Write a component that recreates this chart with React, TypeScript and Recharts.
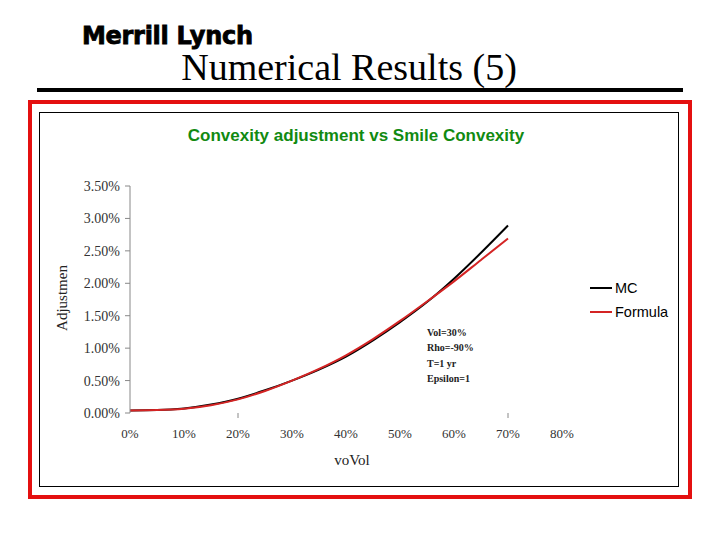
import { LineChart, Line, XAxis, YAxis } from "recharts";

// vol of vol (%), adjustment (%)
const voVol = [0, 5, 10, 15, 20, 25, 30, 35, 40, 45, 50, 55, 60, 65, 70];
const mc = [0.04, 0.045, 0.07, 0.13, 0.22, 0.35, 0.5, 0.67, 0.87, 1.12, 1.4, 1.71, 2.07, 2.47, 2.89];
const formula = [0.04, 0.045, 0.065, 0.12, 0.21, 0.34, 0.5, 0.68, 0.89, 1.14, 1.42, 1.72, 2.03, 2.36, 2.69];

const xTicks = [0, 10, 20, 30, 40, 50, 60, 70, 80];
const xMarked = [20, 70];
const yTicks = [0, 0.5, 1, 1.5, 2, 2.5, 3, 3.5];

const seriesNames = ["MC", "Formula"];
const seriesColors = ["#000000", "#d42424"];
const notes = ["Vol=30%", "Rho=-90%", "T=1 yr", "Epsilon=1"];

const data = voVol.map((v, i) => ({ v, mc: mc[i], formula: formula[i] }));

const serif = "'Liberation Serif', 'Times New Roman', serif";
const sans = "'Liberation Sans', Arial, sans-serif";

function XTick({ x, y, payload }: any) {
  return (
    <g>
      {xMarked.includes(payload.value) && (
        <line x1={x} x2={x} y1={y} y2={y + 5} stroke="#888" strokeWidth={1} />
      )}
      <text x={x} y={y + 25} textAnchor="middle" fontFamily={serif} fontSize={13} fill="#333">
        {payload.value}%
      </text>
    </g>
  );
}

export default function App() {
  return (
    <div
      style={{
        position: "absolute",
        left: 0,
        top: 0,
        width: 720,
        height: 540,
        background: "#fff",
        overflow: "hidden",
      }}
    >
      {/* header */}
      <div
        style={{
          position: "absolute",
          left: 82,
          top: 22,
          fontFamily: "'DejaVu Sans', sans-serif",
          fontWeight: 900,
          fontSize: 24,
          letterSpacing: -0.3,
          color: "#000",
          WebkitTextStroke: "0.8px #000",
        }}
      >
        Merrill Lynch
      </div>
      <div
        style={{
          position: "absolute",
          left: 0,
          width: 698,
          top: 45,
          textAlign: "center",
          fontFamily: serif,
          fontSize: 38,
          color: "#000",
        }}
      >
        Numerical Results (5)
      </div>
      <div style={{ position: "absolute", left: 37, top: 88, width: 646, height: 4, background: "#000" }} />

      {/* frames */}
      <div
        style={{
          position: "absolute",
          left: 28,
          top: 100,
          width: 656,
          height: 391,
          border: "4px solid #e41010",
        }}
      />
      <div
        style={{
          position: "absolute",
          left: 39,
          top: 112,
          width: 638,
          height: 373,
          border: "1.5px solid #000",
        }}
      />

      <div
        style={{
          position: "absolute",
          left: 0,
          width: 712,
          top: 126,
          textAlign: "center",
          fontFamily: sans,
          fontWeight: 700,
          fontSize: 17,
          color: "#118a11",
        }}
      >
        Convexity adjustment vs Smile Convexity
      </div>

      <div style={{ position: "absolute", left: 0, top: 0 }}>
        <LineChart width={720} height={540} data={data} margin={{ top: 186, right: 158, bottom: 97, left: 70 }}>
          <XAxis
            dataKey="v"
            type="number"
            domain={[0, 80]}
            ticks={xTicks}
            axisLine={false}
            tickLine={false}
            tickSize={0}
            tickMargin={0}
            height={30}
            tick={<XTick />}
            interval={0}
          />
          <YAxis
            type="number"
            domain={[0, 3.5]}
            ticks={yTicks}
            width={60}
            stroke="#888"
            tickSize={5}
            tickMargin={5}
            tick={{ fill: "#333", fontFamily: serif, fontSize: 14 }}
            tickFormatter={(v: number) => `${v.toFixed(2)}%`}
            interval={0}
          />
          <Line
            dataKey="mc"
            name={seriesNames[0]}
            type="monotone"
            stroke={seriesColors[0]}
            strokeWidth={2}
            dot={false}
            isAnimationActive={false}
          />
          <Line
            dataKey="formula"
            name={seriesNames[1]}
            type="monotone"
            stroke={seriesColors[1]}
            strokeWidth={2}
            dot={false}
            isAnimationActive={false}
          />
        </LineChart>
      </div>

      {/* axis titles */}
      <div
        style={{
          position: "absolute",
          left: 62,
          top: 298,
          transform: "translate(-50%, -50%) rotate(-90deg)",
          fontFamily: serif,
          fontSize: 15,
          color: "#222",
          whiteSpace: "nowrap",
        }}
      >
        Adjustmen
      </div>
      <div
        style={{
          position: "absolute",
          left: 352,
          top: 460,
          transform: "translate(-50%, -50%)",
          fontFamily: serif,
          fontSize: 15,
          color: "#222",
        }}
      >
        voVol
      </div>

      {/* legend */}
      {seriesNames.map((n, i) => (
        <div
          key={n}
          style={{
            position: "absolute",
            left: 590,
            top: 280 + i * 24,
            display: "flex",
            alignItems: "center",
            fontFamily: sans,
            fontSize: 14.5,
            color: "#000",
          }}
        >
          <span style={{ display: "inline-block", width: 22, height: 2, background: seriesColors[i], marginRight: 3 }} />
          {n}
        </div>
      ))}

      {/* parameter notes */}
      {notes.map((t, i) => (
        <div
          key={t}
          style={{
            position: "absolute",
            left: 427,
            top: 327 + i * 15.3,
            fontFamily: serif,
            fontWeight: 700,
            fontSize: 10,
            color: "#222",
          }}
        >
          {t}
        </div>
      ))}
    </div>
  );
}
